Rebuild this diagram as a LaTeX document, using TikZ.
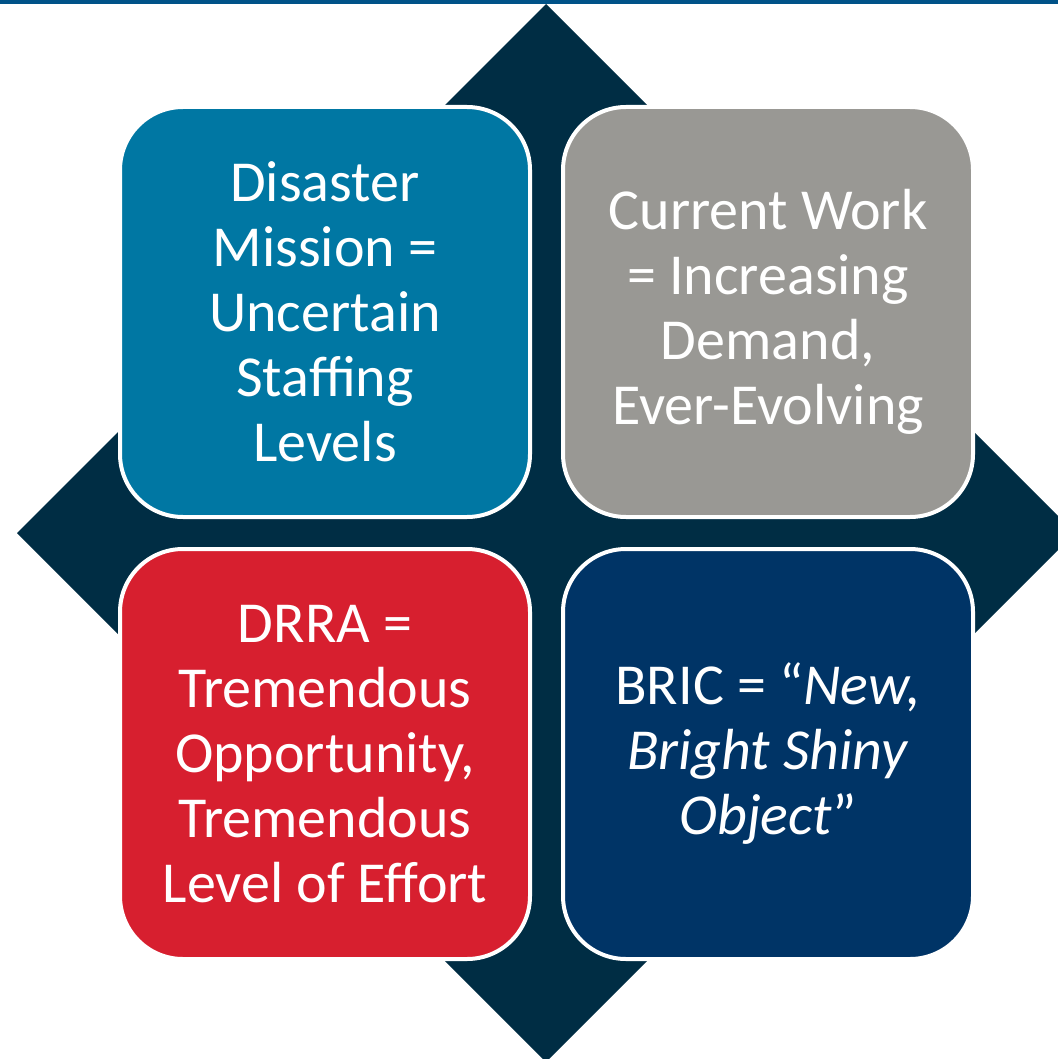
\documentclass[tikz,border=0pt]{standalone}
\usepackage{fontspec}
\setmainfont{Carlito}
\usepackage{xcolor}
\definecolor{band}{HTML}{005288}
\definecolor{kite}{HTML}{002D44}
\definecolor{quadA}{HTML}{0077A3}
\definecolor{quadB}{HTML}{999894}
\definecolor{quadC}{HTML}{D71F2F}
\definecolor{quadD}{HTML}{003466}
\usetikzlibrary{positioning}

\tikzset{
  quad/.style={draw=white,line width=2pt,rounded corners=31.5pt,
    minimum width=205pt,minimum height=205pt,text=white,align=center,
    font=\fontsize{29}{32.5}\selectfont}
}

\begin{document}
\begin{tikzpicture}[x=0.5pt,y=-0.5pt]
  \useasboundingbox (0,0) rectangle (1058,1059);
  \clip (0,0) rectangle (1058,1059);
  % top rule and the big diamond behind
  \fill[band] (0,0) rectangle (1058,4);
  \fill[kite] (546,4) -- (1075,533) -- (546,1062) -- (17,533) -- cycle;
  % four quadrants
  \node[quad,fill=quadA](disaster) at (325,312) {Disaster\\Mission =\\Uncertain\\Staffing\\Levels};
  \node[quad,fill=quadB](current) at (768,312) {Current Work\\= Increasing\\Demand,\\Ever-Evolving};
  \node[quad,fill=quadC](drra) at (325,754) {DRRA =\\Tremendous\\Opportunity,\\Tremendous\\Level of Effort};
  \node[quad,fill=quadD](bric) at (768,754) {BRIC = ``\textit{New,}\\\textit{Bright Shiny}\\\textit{Object}''};
\end{tikzpicture}
\end{document}
